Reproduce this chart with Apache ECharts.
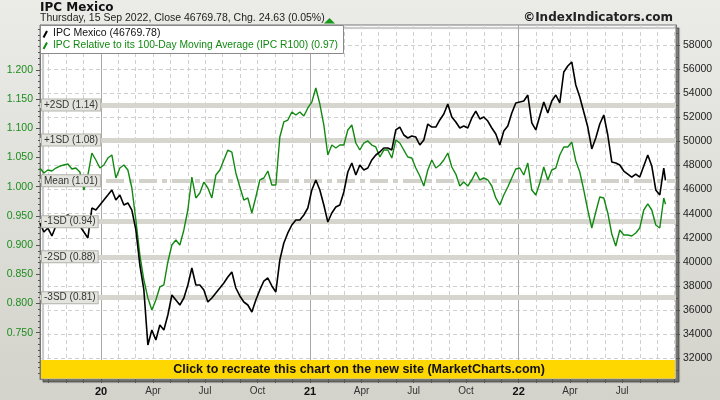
<!DOCTYPE html>
<html><head><meta charset="utf-8">
<script src="https://cdn.jsdelivr.net/npm/echarts@6/dist/echarts.min.js"></script>
<style>html,body{margin:0;padding:0;background:#e2e2de}#c{width:720px;height:400px}</style>
</head><body><div id="c"></div><script>
const dates = ['2019-09-16','2019-09-23','2019-09-30','2019-10-07','2019-10-14','2019-10-21','2019-10-28','2019-11-04','2019-11-11','2019-11-18','2019-11-25','2019-12-02','2019-12-09','2019-12-16','2019-12-23','2019-12-30',
'2020-01-06','2020-01-13','2020-01-20','2020-01-27','2020-02-03','2020-02-10','2020-02-17','2020-02-24','2020-03-02','2020-03-09','2020-03-16','2020-03-23','2020-03-30','2020-04-06','2020-04-13','2020-04-20','2020-04-27','2020-05-04','2020-05-11','2020-05-18','2020-05-25','2020-06-01','2020-06-08','2020-06-15','2020-06-22','2020-06-29','2020-07-06','2020-07-13','2020-07-20','2020-07-27','2020-08-03','2020-08-10','2020-08-17','2020-08-24','2020-08-31','2020-09-07','2020-09-14','2020-09-21','2020-09-28','2020-10-05','2020-10-12','2020-10-19','2020-10-26','2020-11-02','2020-11-09','2020-11-16','2020-11-23','2020-11-30','2020-12-07','2020-12-14','2020-12-21','2020-12-28',
'2021-01-04','2021-01-11','2021-01-18','2021-01-25','2021-02-01','2021-02-08','2021-02-15','2021-02-22','2021-03-01','2021-03-08','2021-03-15','2021-03-22','2021-03-29','2021-04-05','2021-04-12','2021-04-19','2021-04-26','2021-05-03','2021-05-10','2021-05-17','2021-05-24','2021-05-31','2021-06-07','2021-06-14','2021-06-21','2021-06-28','2021-07-05','2021-07-12','2021-07-19','2021-07-26','2021-08-02','2021-08-09','2021-08-16','2021-08-23','2021-08-30','2021-09-06','2021-09-13','2021-09-20','2021-09-27','2021-10-04','2021-10-11','2021-10-18','2021-10-25','2021-11-01','2021-11-08','2021-11-15','2021-11-22','2021-11-29','2021-12-06','2021-12-13','2021-12-20','2021-12-27',
'2022-01-03','2022-01-10','2022-01-17','2022-01-24','2022-01-31','2022-02-07','2022-02-14','2022-02-21','2022-02-28','2022-03-07','2022-03-14','2022-03-21','2022-03-28','2022-04-04','2022-04-11','2022-04-18','2022-04-25','2022-05-02','2022-05-09','2022-05-16','2022-05-23','2022-05-30','2022-06-06','2022-06-13','2022-06-20','2022-06-27','2022-07-04','2022-07-11','2022-07-18','2022-07-25','2022-08-01','2022-08-08','2022-08-15','2022-08-22','2022-08-29','2022-09-05','2022-09-12','2022-09-15'];

const ipcValues = [43230,42480,42810,42150,42980,43310,43640,43890,43640,43480,42980,42480,41980,44470,44300,44720,
45140,45550,45970,45140,45550,44720,44890,44300,42650,39740,37670,33100,34350,33520,34760,34350,35590,37250,36840,36420,37000,38080,39490,38080,38080,37670,36670,37000,37420,37830,38250,38740,39160,37830,37170,36670,36420,35840,36840,37670,38410,38660,38000,37500,40160,41570,42400,43060,43480,43480,43890,44470,
45970,46800,45970,44720,43310,44060,44550,44720,45800,47460,48210,47210,48040,47630,47790,48460,48870,49120,49450,49450,49290,50950,51190,50530,50280,50450,50360,49700,50120,51440,51190,51190,51780,52270,53100,52020,51610,51110,51280,51110,51940,52520,51860,52020,51690,51110,50610,49700,50860,51280,52360,53190,
53270,53350,53850,51530,50950,52110,53270,52360,53350,53850,53190,55760,56260,56590,54680,53680,52440,51190,49370,50280,51440,52190,50530,48290,48210,48040,47540,47290,47040,47290,47040,47960,48870,47960,45970,45550,47790,46770];

const r100Values = [1.032,1.0235,1.0286,1.0269,1.032,1.0354,1.0372,1.0389,1.0303,1.032,1.0252,0.9943,1.02,1.0577,1.0457,1.032,
1.0372,1.0491,1.0543,1.0149,1.032,1.0372,1.0286,0.9978,0.943,0.883,0.8402,0.8096,0.7888,0.806,0.8283,0.8317,0.8711,0.9002,0.9087,0.9002,0.9259,0.9601,1.0166,0.9807,0.9892,1.008,0.9978,0.9807,1.02,1.0286,1.0457,1.0628,1.0594,1.0235,0.9995,0.9772,0.9807,0.955,0.9824,1.0115,1.0149,1.0269,1.0029,1.003,1.0851,1.1108,1.1142,1.1279,1.1228,1.1279,1.1211,1.1348,
1.145,1.169,1.1416,1.1057,1.0543,1.0714,1.0663,1.0714,1.0714,1.0971,1.1057,1.0748,1.0628,1.0748,1.0783,1.0714,1.068,1.0509,1.0628,1.0628,1.0491,1.08,1.0748,1.0628,1.0509,1.0491,1.032,1.0183,1.0012,1.0286,1.0457,1.032,1.0372,1.0457,1.0577,1.0337,1.0217,1.0012,1.008,1.0012,1.0115,1.0252,1.0115,1.0149,1.0115,1.0012,0.9807,0.9687,0.9858,0.9995,1.0149,1.0303,
1.032,1.02,1.0406,0.9943,0.9858,1.0063,1.0337,1.0115,1.0286,1.032,1.0543,1.068,1.068,1.0765,1.044,1.0252,0.9943,0.9601,0.9293,0.9567,0.9824,0.9807,0.955,0.919,0.8985,0.9259,0.9173,0.9173,0.9156,0.9207,0.9293,0.9601,0.9704,0.9601,0.9344,0.9293,0.9807,0.97];

const ratioTicks = [0.75,0.80,0.85,0.90,0.95,1.00,1.05,1.10,1.15,1.20];
const ipcTicks = [32000,34000,36000,38000,40000,42000,44000,46000,48000,50000,52000,54000,56000,58000];
const sdLevels = [1.143,1.076,1.009,0.942,0.875,0.808];
const sdLabels = ['+2SD (1.14)','+1SD (1.08)','Mean (1.01)','-1SD (0.94)','-2SD (0.88)','-3SD (0.81)'];
const xLabelDates = ['2020-01-01','2020-04-01','2020-07-01','2020-10-01','2021-01-01','2021-04-01','2021-07-01','2021-10-01','2022-01-01','2022-04-01','2022-07-01'];
const yearLineDates = ['2020-01-01','2021-01-01','2022-01-01'];
const xRange = ['2019-09-16 05:00','2022-10-03 10:00'];
const monthNames = ['Jan','Feb','Mar','Apr','May','Jun','Jul','Aug','Sep','Oct','Nov','Dec'];

function ts(s){const p=s.split(/[- :]/).map(Number);return new Date(p[0],p[1]-1,p[2],p[3]||0,p[4]||0).getTime();}
const xMin=ts(xRange[0]), xMax=ts(xRange[1]);
const monthTicks=[];for(let y=2019;y<=2022;y++){for(let m=0;m<12;m++){const t=new Date(y,m,1).getTime();if(t>xMin&&t<xMax)monthTicks.push(t);}}
const minorRatio=[];for(let v=68;v<=127;v++){minorRatio.push(v/100);}
const minorIpc=[];for(let v=31000;v<=59000;v+=2000){minorIpc.push(v);}

const rMin=0.6707, rMax=1.2769, iMin=30278, iMax=59660;
const FF='Liberation Sans';
const chart=echarts.init(document.getElementById('c'),null,{width:720,height:400,renderer:'canvas'});

const bandLines=sdLevels.map((v,i)=>({yAxis:v,name:sdLabels[i],lineStyle:{color:i===2?'#d2d2ca':'#d6d6ce',width:i===2?4:5,type:i===2?[18,5,5,5]:'solid'}}));

const option={
  animation:false,
  backgroundColor:{type:'linear',x:0,y:0,x2:0,y2:1,colorStops:[{offset:0,color:'#ebebe8'},{offset:1,color:'#d3d3cb'}]},
  grid:{left:40,right:44,top:25,height:354,show:true,backgroundColor:'#ffffff',borderColor:'#777',borderWidth:1,
        shadowColor:'rgba(0,0,0,0.45)',shadowBlur:1,shadowOffsetX:3,shadowOffsetY:3,outerBoundsMode:'none',containLabel:false},
  xAxis:[
    {type:'value',min:xMin,max:xMax,scale:true,
     axisLine:{show:true,lineStyle:{color:'#777'}},
     axisTick:{show:true,customValues:monthTicks,length:4,lineStyle:{color:'#555'}},
     axisLabel:{customValues:xLabelDates.map(ts),margin:7,fontSize:10,color:'#333',fontFamily:FF,hideOverlap:false,
       formatter:function(v){const d=new Date(v);const m=d.getMonth();if(m===0)return '{y|'+String(d.getFullYear()).slice(2)+'}';return monthNames[m];},
       rich:{y:{fontWeight:'bold',fontSize:11,color:'#111',fontFamily:FF}}},
     splitLine:{show:true,lineStyle:{color:'#d0d0d0',type:[4,3],width:1}}},
    {type:'value',min:xMin,max:xMax,scale:true,position:'bottom',
     axisLine:{show:false},axisTick:{show:false,customValues:yearLineDates.map(ts)},axisLabel:{show:false},
     splitLine:{show:true,lineStyle:{color:'#a8a8a8',type:'solid',width:1}}}
  ],
  yAxis:[
    {type:'value',position:'left',min:rMin,max:rMax,scale:true,
     axisLine:{show:true,lineStyle:{color:'#777'}},
     axisTick:{show:true,customValues:ratioTicks,length:4,lineStyle:{color:'#555'}},
     axisLabel:{customValues:ratioTicks,margin:7,fontSize:10.5,color:'#1e8c1e',fontFamily:FF,formatter:v=>v.toFixed(3)},
     splitLine:{show:false}},
    {type:'value',position:'right',min:iMin,max:iMax,scale:true,
     axisLine:{show:true,lineStyle:{color:'#777'}},
     axisTick:{show:true,customValues:ipcTicks,length:4,lineStyle:{color:'#555'}},
     axisLabel:{customValues:ipcTicks,margin:7,fontSize:10.5,color:'#222',fontFamily:FF,formatter:v=>String(v)},
     splitLine:{show:true,lineStyle:{color:'#d0d0d0',type:[4,3],width:1}}},
    {type:'value',position:'left',min:rMin,max:rMax,scale:true,axisLine:{show:false},axisLabel:{show:false},splitLine:{show:false},
     axisTick:{show:true,customValues:minorRatio,length:2,lineStyle:{color:'#555'}}},
    {type:'value',position:'right',min:iMin,max:iMax,scale:true,axisLine:{show:false},axisLabel:{show:false},splitLine:{show:false},
     axisTick:{show:true,customValues:minorIpc,length:2,lineStyle:{color:'#555'}}}
  ],
  series:[
    {name:'bands',type:'line',xAxisIndex:0,yAxisIndex:0,data:[],z:1,silent:true,
     markLine:{z:1,silent:true,symbol:['none','none'],label:{show:false},emphasis:{disabled:true},data:bandLines}},
    {name:'IPC Relative to its 100-Day Moving Average (IPC R100)',type:'line',xAxisIndex:0,yAxisIndex:0,
     data:dates.map((d,i)=>[ts(d),r100Values[i]]),showSymbol:false,symbol:'none',z:3,
     lineStyle:{color:'#128a12',width:1.4},itemStyle:{color:'#128a12'}},
    {name:'IPC Mexico',type:'line',xAxisIndex:0,yAxisIndex:1,
     data:dates.map((d,i)=>[ts(d),ipcValues[i]]),showSymbol:false,symbol:'none',z:4,
     lineStyle:{color:'#000',width:1.6},itemStyle:{color:'#000'}},
    {name:'bandLabels',type:'line',xAxisIndex:0,yAxisIndex:0,data:[],z:10,silent:true,
     markLine:{z:10,silent:true,symbol:['none','none'],lineStyle:{color:'rgba(0,0,0,0)',width:1,type:'solid'},emphasis:{disabled:true},
       label:{show:true,position:'insideStart',distance:[2,0],verticalAlign:'middle',align:'left',formatter:p=>p.name,
         fontSize:10,fontFamily:FF,color:'#333',backgroundColor:'#e4e4de',borderColor:'#b4b4ac',borderWidth:1,padding:[1,2,0,2]},
       data:sdLevels.map((v,i)=>({yAxis:v,name:sdLabels[i]}))}}
  ],
  graphic:[
    {type:'text',left:40,top:1.5,style:{text:'IPC Mexico',font:'bold 12px "DejaVu Sans"',fill:'#111'}},
    {type:'text',left:40,top:13,style:{text:'Thursday, 15 Sep 2022, Close 46769.78, Chg. 24.63 (0.05%)',font:'10.5px "Liberation Sans"',fill:'#222'}},
    {type:'polygon',shape:{points:[[324,23.5],[335,23.5],[329.5,18]]},style:{fill:'#1a9a1a'}},
    {type:'text',right:47,top:12,style:{text:'\u00a9IndexIndicators.com',font:'bold 12px "DejaVu Sans"',fill:'#222'}},
    {type:'rect',shape:{x:40.5,y:25.5,width:303,height:28},style:{fill:'#fff',stroke:'#8a8a8a',lineWidth:1},z:50},
    {type:'line',shape:{x1:43.5,y1:37.5,x2:47,y2:31},style:{stroke:'#000',lineWidth:2},z:51},
    {type:'line',shape:{x1:43.5,y1:49,x2:47,y2:42.5},style:{stroke:'#128a12',lineWidth:2},z:51},
    {type:'text',x:53,y:28,style:{text:'IPC Mexico (46769.78)',font:'10.5px "Liberation Sans"',fill:'#111'},z:51},
    {type:'text',x:53,y:40,style:{text:'IPC Relative to its 100-Day Moving Average (IPC R100) (0.97)',font:'10.3px "Liberation Sans"',fill:'#128a12'},z:51},
    {type:'rect',shape:{x:41,y:360,width:634,height:18.5},style:{fill:'#ffd700'},z:50},
    {type:'text',x:359,y:369.5,style:{text:'Click to recreate this chart on the new site (MarketCharts.com)',font:'bold 12.5px "Liberation Sans"',fill:'#111',align:'center',verticalAlign:'middle'},z:51}
  ]
};
chart.setOption(option);
</script></body></html>
